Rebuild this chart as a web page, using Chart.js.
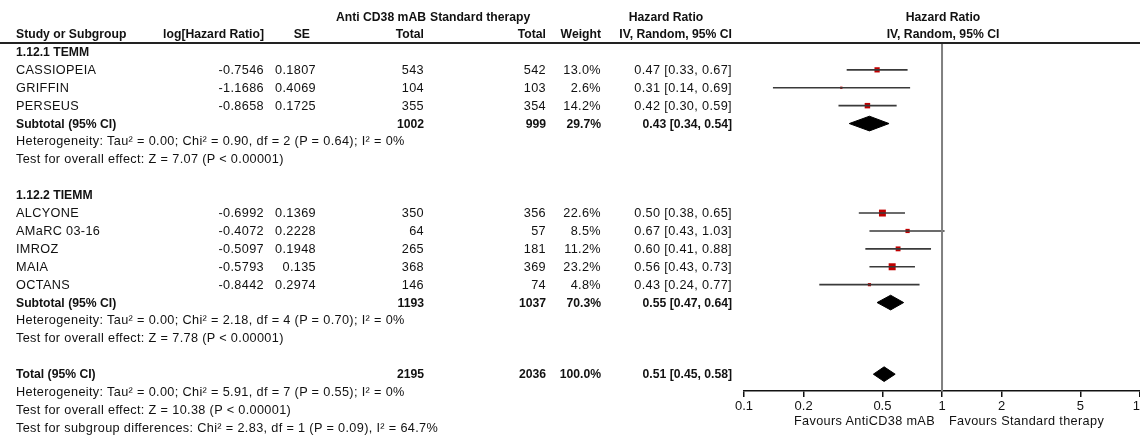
<!DOCTYPE html>
<html>
<head>
<meta charset="utf-8">
<script src="https://cdn.jsdelivr.net/npm/chart.js@4/dist/chart.umd.min.js"></script>
<style>
  html, body { margin: 0; padding: 0; background: #fff; }
  #wrap { position: relative; width: 1140px; height: 440px; overflow: hidden;
          font-family: "Liberation Sans", Arial, sans-serif; color: #111; }
  #plot { position: absolute; left: 0; top: 0; }
  .t { position: absolute; white-space: nowrap; font-size: 12.7px; line-height: 16px; height: 16px; letter-spacing: 0.35px; }
  .b { font-weight: bold; font-size: 12.2px; letter-spacing: 0; }
  .r { text-align: right; width: 300px; }
  .c { text-align: center; width: 300px; }
  #rule { position: absolute; left: 0; top: 42px; width: 1140px; height: 2px; background: #222; }
</style>
</head>
<body>
<div id="wrap">
  <canvas id="plot" width="1145" height="440"></canvas>
  <div id="rule"></div>
  <div id="txt"></div>
</div>
<script>
// studies
const studies = ["CASSIOPEIA", "GRIFFIN", "PERSEUS", "ALCYONE", "AMaRC 03-16", "IMROZ", "MAIA", "OCTANS"];
const logHR = [-0.7546, -1.1686, -0.8658, -0.6992, -0.4072, -0.5097, -0.5793, -0.8442];
const se = [0.1807, 0.4069, 0.1725, 0.1369, 0.2228, 0.1948, 0.135, 0.2974];
const totalAnti = [543, 104, 355, 350, 64, 265, 368, 146];
const totalStd = [542, 103, 354, 356, 57, 181, 369, 74];
const weight = [13.0, 2.6, 14.2, 22.6, 8.5, 11.2, 23.2, 4.8];
const hr = [0.47, 0.31, 0.42, 0.50, 0.67, 0.60, 0.56, 0.43];
const lo = [0.33, 0.14, 0.30, 0.38, 0.43, 0.41, 0.43, 0.24];
const hi = [0.67, 0.69, 0.59, 0.65, 1.03, 0.88, 0.73, 0.77];

// subtotals + total
const sumNames = ["Subtotal (95% CI)", "Subtotal (95% CI)", "Total (95% CI)"];
const sumAnti = [1002, 1193, 2195];
const sumStd = [999, 1037, 2036];
const sumWeight = [29.7, 70.3, 100.0];
const sumHR = [0.43, 0.55, 0.51];
const sumLo = [0.34, 0.47, 0.45];
const sumHi = [0.54, 0.64, 0.58];

const groupNames = ["1.12.1 TEMM", "1.12.2 TIEMM"];
const hetText = [
  "Heterogeneity: Tau\u00b2 = 0.00; Chi\u00b2 = 0.90, df = 2 (P = 0.64); I\u00b2 = 0%",
  "Heterogeneity: Tau\u00b2 = 0.00; Chi\u00b2 = 2.18, df = 4 (P = 0.70); I\u00b2 = 0%",
  "Heterogeneity: Tau\u00b2 = 0.00; Chi\u00b2 = 5.91, df = 7 (P = 0.55); I\u00b2 = 0%"
];
const effectText = [
  "Test for overall effect: Z = 7.07 (P < 0.00001)",
  "Test for overall effect: Z = 7.78 (P < 0.00001)",
  "Test for overall effect: Z = 10.38 (P < 0.00001)"
];
const subgroupText = "Test for subgroup differences: Chi\u00b2 = 2.83, df = 1 (P = 0.09), I\u00b2 = 64.7%";

const tickVals = [0.1, 0.2, 0.5, 1, 2, 5, 10];
const tickLabels = ["0.1", "0.2", "0.5", "1", "2", "5", "10"];

// row layout (row index in the table)
const groupRows = [0, 8];
const studyRows = [1, 2, 3, 9, 10, 11, 12, 13];
const sumRows = [4, 14, 18];
const hetRows = [5, 15, 19];
const effectRows = [6, 16, 20];
const subgroupRow = 21;

const FONT = '"Liberation Sans", Arial, sans-serif';

const datasets = [];
// line of no effect
datasets.push({
  data: [{ x: 1, y: -0.5 }, { x: 1, y: 18.94 }],
  showLine: true, borderColor: "#808080", borderWidth: 2, pointRadius: 0
});
// confidence intervals
studies.forEach((s, i) => {
  datasets.push({
    data: [{ x: lo[i], y: studyRows[i] }, { x: hi[i], y: studyRows[i] }],
    showLine: true, borderColor: "#3a3a3a", borderWidth: 1.6, pointRadius: 0
  });
});
// weight squares
datasets.push({
  data: studies.map((s, i) => ({ x: hr[i], y: studyRows[i] })),
  pointStyle: "rect",
  pointRadius: ctx => 7 * Math.sqrt(weight[ctx.dataIndex] / 23.2) / 1.414,
  backgroundColor: "#c00000", borderWidth: 0
});
// diamonds
sumNames.forEach((s, i) => {
  const r = sumRows[i];
  datasets.push({
    data: [
      { x: sumLo[i], y: r }, { x: sumHR[i], y: r - 0.41 },
      { x: sumHi[i], y: r }, { x: sumHR[i], y: r + 0.41 }, { x: sumLo[i], y: r }
    ],
    showLine: true, fill: "shape", backgroundColor: "#000", borderColor: "#000",
    borderWidth: 1, pointRadius: 0
  });
});

const chart = new Chart(document.getElementById("plot"), {
  type: "scatter",
  data: { datasets: datasets },
  options: {
    responsive: false,
    animation: false,
    layout: { padding: { left: 744, top: 43, right: 0, bottom: 0 } },
    plugins: { legend: { display: false }, tooltip: { enabled: false } },
    scales: {
      x: {
        type: "logarithmic", min: 0.1, max: 10,
        afterBuildTicks: s => { s.ticks = tickVals.map(v => ({ value: v })); },
        afterFit: s => { s.height = 49; s.paddingLeft = 0; s.paddingRight = 0; },
        ticks: {
          autoSkip: false, maxRotation: 0, color: "#111", padding: 2,
          font: { family: FONT, size: 13 },
          callback: v => tickLabels[tickVals.indexOf(v)]
        },
        grid: { drawOnChartArea: false, drawTicks: true, tickLength: 6, color: "#111", lineWidth: 1.5 },
        border: { display: true, color: "#111", width: 1.5 }
      },
      y: { type: "linear", reverse: true, min: -0.5, max: 18.94, display: false }
    }
  }
});

// table text, placed on the chart's row scale
const txt = document.getElementById("txt");
function put(text, x, y, cls) {
  const d = document.createElement("div");
  d.className = "t " + (cls || "");
  d.textContent = text;
  let left = x;
  if (d.className.includes(" r")) left = x - 300;
  if (d.className.includes(" c")) left = x - 150;
  d.style.left = left + "px";
  d.style.top = (y - 8) + "px";
  txt.appendChild(d);
}
const rowY = r => chart.scales.y.getPixelForValue(r);
const ci = (h, l, u) => h.toFixed(2) + " [" + l.toFixed(2) + ", " + u.toFixed(2) + "]";

// headers
put("Anti CD38 mAB", 426, 17, "b r");
put("Standard therapy", 430, 17, "b");
put("Hazard Ratio", 666, 17, "b c");
put("Hazard Ratio", 943, 17, "b c");
put("Study or Subgroup", 16, 34, "b");
put("log[Hazard Ratio]", 264, 34, "b r");
put("SE", 310, 34, "b r");
put("Total", 424, 34, "b r");
put("Total", 546, 34, "b r");
put("Weight", 601, 34, "b r");
put("IV, Random, 95% CI", 732, 34, "b r");
put("IV, Random, 95% CI", 943, 34, "b c");

groupNames.forEach((g, i) => put(g, 16, rowY(groupRows[i]), "b"));
studies.forEach((s, i) => {
  const y = rowY(studyRows[i]);
  put(s, 16, y);
  put(logHR[i].toFixed(4), 264, y, "r");
  put(String(se[i]), 316, y, "r");
  put(String(totalAnti[i]), 424, y, "r");
  put(String(totalStd[i]), 546, y, "r");
  put(weight[i].toFixed(1) + "%", 601, y, "r");
  put(ci(hr[i], lo[i], hi[i]), 732, y, "r");
});
sumNames.forEach((s, i) => {
  const y = rowY(sumRows[i]);
  put(s, 16, y, "b");
  put(String(sumAnti[i]), 424, y, "b r");
  put(String(sumStd[i]), 546, y, "b r");
  put(sumWeight[i].toFixed(1) + "%", 601, y, "b r");
  put(ci(sumHR[i], sumLo[i], sumHi[i]), 732, y, "b r");
  put(hetText[i], 16, rowY(hetRows[i]));
  put(effectText[i], 16, rowY(effectRows[i]));
});
put(subgroupText, 16, rowY(subgroupRow));

// favours labels under the axis
put("Favours AntiCD38 mAB", 935, 421, "r");
put("Favours Standard therapy", 949, 421);
</script>
</body>
</html>
